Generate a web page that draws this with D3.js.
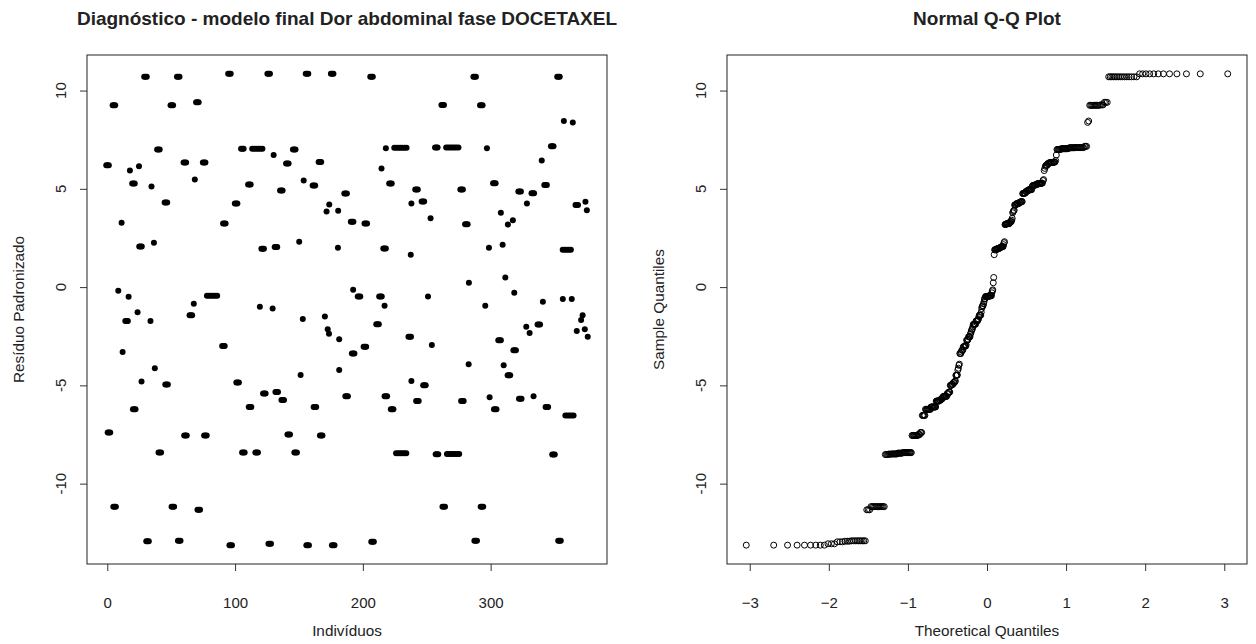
<!DOCTYPE html>
<html><head><meta charset="utf-8">
<script src="https://cdnjs.cloudflare.com/ajax/libs/d3/7.8.5/d3.min.js"></script>
<style>
html,body{margin:0;padding:0;background:#fff;}
text{font-family:"Liberation Sans",Arial,sans-serif;fill:#222;}
</style></head>
<body>
<svg id="chart" width="1256" height="644"></svg>
<script>
// ---- data: residual clusters [individual index, standardized residual, number of observations] ----
const clustersA = [[0.2,6.2,3],[1.3,-7.4,3],[5.2,9.25,3],[5.7,-11.17,3],[8.6,-0.19,1],[11.2,3.28,1],[12,-3.3,1],[15.1,-1.72,3],[16.7,-0.49,1],[17.7,5.93,1],[20.5,5.27,3],[21.1,-6.22,3],[23.7,-1.28,1],[24.8,6.15,1],[26,2.06,3],[26.8,-4.8,1],[29.9,10.7,3],[31.5,-12.93,3],[33.8,-1.72,1],[34.6,5.12,1],[36.5,2.26,1],[37.2,-4.13,1],[40,7.0,3],[41.1,-8.42,3],[45.9,4.3,3],[46.4,-4.95,3],[50.5,9.25,3],[51.3,-11.17,3],[55.5,10.7,3],[56.3,-12.91,3],[60.7,6.34,3],[61.2,-7.55,3],[65.4,-1.43,3],[67.7,-0.85,1],[68.5,5.47,1],[70.5,9.4,3],[71.6,-11.33,3],[75.8,6.34,3],[76.8,-7.55,3],[82,-0.44,6],[90.9,-3.0,3],[91.6,3.23,3],[95.6,10.85,3],[96.6,-13.13,3]];
const clustersB = [[100.8,4.25,3],[102,-4.86,3],[105.7,7.04,3],[106.5,-8.42,3],[111.2,5.22,3],[111.7,-6.1,3],[117.4,7.04,6],[116.9,-8.42,3],[119.4,-1.0,1],[121.6,1.95,3],[122.9,-5.42,3],[126.3,10.85,3],[127.1,-13.06,3],[129.4,-1.09,1],[130.2,6.72,1],[132,2.04,3],[132.6,-5.34,3],[136.2,4.91,3],[137.3,-5.75,3],[140.9,6.29,3],[142,-7.5,3],[146.3,7.0,3],[147.4,-8.42,3],[150.2,2.31,1],[151.3,-4.47,1],[153,-1.62,1],[153.7,5.42,1],[156.3,10.85,3],[156.8,-13.13,3],[161.7,5.17,3],[162.5,-6.1,3],[166.4,6.36,3],[167.4,-7.55,3],[170.3,-1.5,1],[171.6,3.84,1],[172.5,-2.15,1],[173.5,-2.38,1],[173.7,4.2,1],[176,10.85,3],[176.8,-13.13,3],[180.7,3.89,1],[180.5,2.0,1],[181.5,-2.65,1],[181.5,-4.22,1],[186.5,4.76,3],[187.3,-5.56,3],[191.6,3.33,3],[192.4,-0.14,1],[192.4,-3.38,3],[197,-0.48,3]];
const clustersC = [[201.6,-3.04,3],[202.3,3.23,3],[206.8,10.7,3],[207.6,-12.96,3],[211.5,-1.89,3],[213.8,-0.48,3],[214.6,6.04,1],[217,1.97,3],[217,-0.95,1],[218,7.06,1],[218,-5.56,3],[221.6,5.27,3],[222.9,-6.22,3],[229.4,7.09,7],[230,-8.45,6],[236.7,-2.53,3],[237.5,1.65,1],[238,4.25,1],[238,-4.78,1],[242,4.96,3],[242.7,-5.8,3],[247,4.35,3],[248.2,-5.0,3],[251,-0.48,1],[253,3.5,1],[254,-2.94,1],[257.5,7.1,3],[258,-8.5,3],[262.5,9.27,3],[263.3,-11.17,3],[270,7.1,7],[270.6,-8.49,7],[277.3,4.96,3],[277.9,-5.8,3],[281,3.2,3],[283,0.22,1],[282.8,-3.92,1],[287.5,10.7,3],[288.3,-12.91,3],[292.7,9.25,3],[293.2,-11.17,3],[295.8,-0.95,1],[297.1,7.06,1],[298.7,2.0,1],[299.2,-5.6,1]];
const clustersD = [[302.9,5.29,3],[303.6,-6.22,3],[307,-2.7,3],[308,3.78,1],[309.4,2.16,1],[310.2,-3.98,1],[311.5,0.49,1],[313.5,3.18,1],[314.3,-4.49,3],[317.4,3.4,1],[318.5,-0.29,1],[318.8,-3.21,3],[322.7,4.86,3],[323.2,-5.68,3],[327.9,-2.02,1],[328.4,4.25,1],[330.5,-2.33,1],[333,4.78,3],[333.6,-5.56,1],[337.7,-1.9,3],[340,6.44,1],[340.9,-0.75,1],[343,5.19,3],[344,-6.1,3],[348.2,7.16,3],[349.2,-8.52,3],[353.1,10.7,3],[353.9,-12.91,3],[356.5,-0.6,1],[357.3,8.45,1],[359.6,1.9,5],[361.7,-6.53,5],[363.5,-0.6,1],[364.3,8.38,1],[367.4,4.18,3],[367.4,-2.23,1],[370.8,-1.68,1],[372,-1.43,1],[373.7,-2.14,1],[374.2,4.34,1],[375.3,3.91,1],[376,-2.53,1]];

const xTicks = [0,100,200,300];
const yTicks = [-10,-5,0,5,10];
const qqTicks = [-3,-2,-1,0,1,2,3];

const titleLeft = "Diagnóstico - modelo final Dor abdominal fase DOCETAXEL";
const titleRight = "Normal Q-Q Plot";

// expand clusters into individual observations
const points = [];
[clustersA, clustersB, clustersC, clustersD].forEach(arr => arr.forEach(([c, v, n]) => {
  const step = n >= 5 ? 1.6 : 1;
  for (let k = 0; k < n; k++) points.push({x: c + (k - (n - 1) / 2) * step, y: v});
}));

// inverse normal CDF (Acklam)
function qnorm(p){
  const a=[-3.969683028665376e+01,2.209460984245205e+02,-2.759285104469687e+02,1.383577518672690e+02,-3.066479806614716e+01,2.506628277459239e+00];
  const b=[-5.447609879822406e+01,1.615858368580409e+02,-1.556989798598866e+02,6.680131188771972e+01,-1.328068155288572e+01];
  const c=[-7.784894002430293e-03,-3.223964580411365e-01,-2.400758277161838e+00,-2.549732539343734e+00,4.374664141464968e+00,2.938163982698783e+00];
  const d=[7.784695709041462e-03,3.224671290700398e-01,2.445134137142996e+00,3.754408661907416e+00];
  const pl=0.02425, ph=1-pl; let q,r;
  if(p<pl){q=Math.sqrt(-2*Math.log(p));return (((((c[0]*q+c[1])*q+c[2])*q+c[3])*q+c[4])*q+c[5])/((((d[0]*q+d[1])*q+d[2])*q+d[3])*q+1);}
  if(p<=ph){q=p-0.5;r=q*q;return (((((a[0]*r+a[1])*r+a[2])*r+a[3])*r+a[4])*r+a[5])*q/(((((b[0]*r+b[1])*r+b[2])*r+b[3])*r+b[4])*r+1);}
  q=Math.sqrt(-2*Math.log(1-p));return -(((((c[0]*q+c[1])*q+c[2])*q+c[3])*q+c[4])*q+c[5])/((((d[0]*q+d[1])*q+d[2])*q+d[3])*q+1);
}
const sorted = points.map(d=>d.y).sort((a,b)=>a-b);
const N = sorted.length;
const qq = sorted.map((v,i)=>({x: qnorm((i+1-0.5)/N), y: v}));

function pad(ext){const r=ext[1]-ext[0];return [ext[0]-0.04*r, ext[1]+0.04*r];}

const svg = d3.select("#chart");
const plotTop=55, plotBottom=564;
const FONT="'Liberation Sans',Arial,sans-serif";

function panel(left, right, xs, ys, xt, title, xlab, ylab){
  const g = svg.append("g");
  const ax = g.append("g").attr("transform",`translate(0,${plotBottom})`)
    .call(d3.axisBottom(xs).tickValues(xt).tickSize(7).tickPadding(26).tickFormat(d3.format("d")));
  ax.select(".domain").remove();
  ax.selectAll("line").attr("stroke","#333");
  ax.selectAll("text").attr("font-size",15).attr("fill","#222").style("font-family",FONT);
  const ay = g.append("g").attr("transform",`translate(${left},0)`)
    .call(d3.axisLeft(ys).tickValues(yTicks).tickSize(7).tickFormat(""));
  ay.select(".domain").remove();
  ay.selectAll("line").attr("stroke","#333");
  g.selectAll(".ylab").data(yTicks).enter().append("text")
    .attr("transform",d=>`translate(${left-27},${ys(d)}) rotate(-90)`)
    .attr("text-anchor","middle").attr("dominant-baseline","central")
    .attr("font-size",15).text(d=>d);
  g.append("rect").attr("x",left).attr("y",plotTop).attr("width",right-left).attr("height",plotBottom-plotTop)
    .attr("fill","none").attr("stroke","#222").attr("stroke-width",1);
  const cx=(left+right)/2;
  g.append("text").attr("x",cx).attr("y",18).attr("text-anchor","middle").attr("dominant-baseline","central")
    .attr("font-size",19).attr("font-weight","bold").attr("fill","#111").text(title);
  g.append("text").attr("x",cx).attr("y",630).attr("text-anchor","middle").attr("dominant-baseline","central")
    .attr("font-size",15.3).text(xlab);
  g.append("text").attr("transform",`translate(${left-69},${(plotTop+plotBottom)/2}) rotate(-90)`)
    .attr("text-anchor","middle").attr("dominant-baseline","central").attr("font-size",15.3).text(ylab);
  return g;
}

// Left panel: residuals by individual
const L0=87, L1=607;
const xL = d3.scaleLinear().domain(pad(d3.extent(points,d=>d.x))).range([L0,L1]);
const yS = d3.scaleLinear().domain(pad(d3.extent(points,d=>d.y))).range([plotBottom,plotTop]);
const gl = panel(L0,L1,xL,yS,xTicks,titleLeft,"Indivíduos","Resíduo Padronizado");
gl.append("g").selectAll("circle").data(points).enter().append("circle")
  .attr("cx",d=>xL(d.x)).attr("cy",d=>yS(d.y)).attr("r",3).attr("fill","#000");

// Right panel: normal Q-Q plot
const R0=727, R1=1247;
const xR = d3.scaleLinear().domain(pad(d3.extent(qq,d=>d.x))).range([R0,R1]);
const gr = panel(R0,R1,xR,yS,qqTicks,titleRight,"Theoretical Quantiles","Sample Quantiles");
gr.append("g").selectAll("circle").data(qq).enter().append("circle")
  .attr("cx",d=>xR(d.x)).attr("cy",d=>yS(d.y)).attr("r",3).attr("fill","none").attr("stroke","#000").attr("stroke-width",1);
</script>
</body></html>
